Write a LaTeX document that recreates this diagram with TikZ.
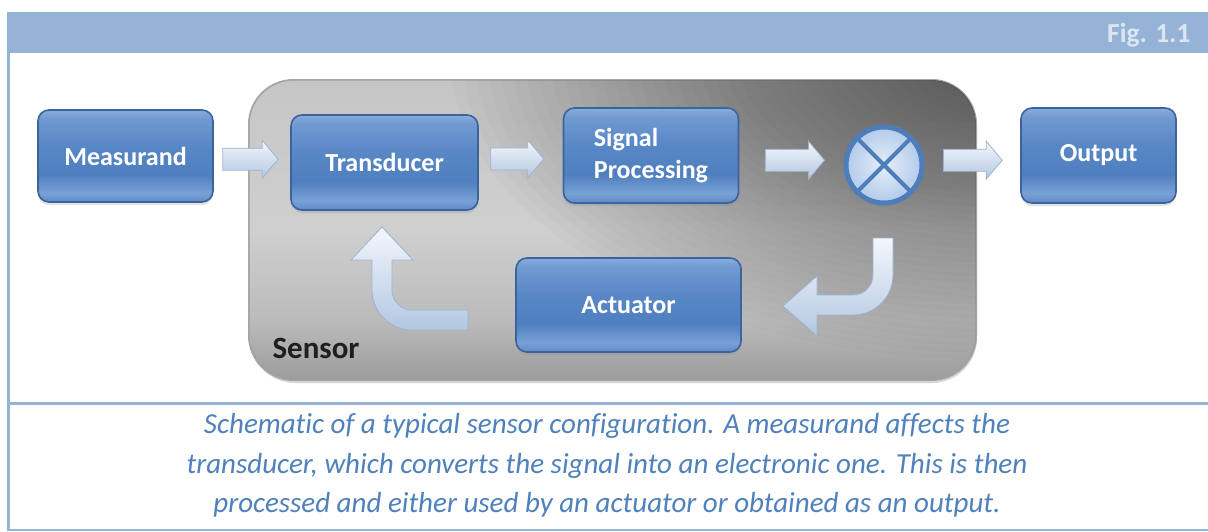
\documentclass[tikz,border=0pt]{standalone}
\usepackage{fontspec}
\setmainfont{Carlito}[Ligatures={NoCommon}]
\usetikzlibrary{calc,shadows}

% palette
\definecolor{frameblue}{HTML}{95B3D7}
\definecolor{captionblue}{HTML}{4F81BD}
\definecolor{figlabel}{HTML}{DCE6F2}
\definecolor{boxline}{HTML}{3B639C}
\definecolor{bxA}{HTML}{5E8AC6}
\definecolor{bxB}{HTML}{7AA1D6}
\definecolor{bxC}{HTML}{4F7FBF}
\definecolor{bxD}{HTML}{5887C5}
\definecolor{bxE}{HTML}{7099D1}
\definecolor{bxF}{HTML}{88ACDC}
\definecolor{snA}{HTML}{9C9C9C}
\definecolor{snB}{HTML}{BBBBBB}
\definecolor{snC}{HTML}{CFCFCF}
\definecolor{snD}{HTML}{C6C6C6}
\definecolor{arrowtop}{HTML}{F4F7FC}
\definecolor{arrowbot}{HTML}{B3C7E2}
\definecolor{arrowline}{HTML}{9DB3D2}
\definecolor{ringblue}{HTML}{4E7DBB}
\definecolor{mixin}{HTML}{E6EEF9}
\definecolor{mixout}{HTML}{B2CBEA}

% glossy blue fill of the blocks
\pgfdeclareverticalshading{glossblue}{100bp}{color(0bp)=(bxA); color(25bp)=(bxA);
  color(30bp)=(bxB); color(40bp)=(bxC); color(55bp)=(bxD); color(70bp)=(bxE);
  color(75bp)=(bxF); color(100bp)=(bxF)}
% base fill of the sensor panel
\pgfdeclareverticalshading{sensorbase}{100bp}{color(0bp)=(snA); color(25bp)=(snA);
  color(35bp)=(snB); color(50bp)=(snC); color(75bp)=(snD); color(100bp)=(snD)}

\tikzset{
  blockbox/.style={rectangle, rounded corners=11pt, inner sep=0pt,
    shading=glossblue, draw=boxline, line width=1.6pt,
    drop shadow={shadow xshift=0pt, shadow yshift=-3pt, opacity=0.22},
    text=white, font=\fontsize{26}{32}\selectfont\bfseries},
  sensorbox/.style={rectangle, rounded corners=45pt, inner sep=0pt,
    shading=sensorbase, draw=gray!75, line width=1pt,
    drop shadow={shadow xshift=1pt, shadow yshift=-3pt, opacity=0.3}},
  fatarrow/.style={draw=arrowline, line width=0.8pt,
    top color=arrowtop, bottom color=arrowbot,
    to path={let \p1=(\tikztostart), \p2=(\tikztotarget),
      \p3=($(\tikztostart)!0.5!(\tikztotarget)$) in
      (\x1,\y3+11pt) -- (\x2-16pt,\y3+11pt) -- (\x2-16pt,\y3+19pt) -- (\x2,\y3)
      -- (\x2-16pt,\y3-19pt) -- (\x2-16pt,\y3-11pt) -- (\x1,\y3-11pt) -- cycle}},
  bentarrow/.style={draw=arrowline, line width=0.8pt,
    top color=arrowtop, bottom color=arrowbot},
  xline/.style={draw=ringblue, line width=4pt},
  captiontext/.style={anchor=base, text=captionblue,
    font=\fontsize{29}{34}\selectfont\itshape}
}

\begin{document}
\begin{tikzpicture}[x=1pt, y=-1pt]
\useasboundingbox (0,0) rectangle (1208,531);
\fill[white] (0,0) rectangle (1208,531);

% frame of the figure
\fill[frameblue] (7,12) rectangle (1208,53);
\fill[frameblue] (7,53) rectangle (10,531);
\fill[frameblue] (7,402) rectangle (1208,405);
\fill[frameblue] (7,528.5) rectangle (1208,531);
\node[anchor=base east, text=figlabel, font=\fontsize{27.5}{30}\selectfont\bfseries]
  (figno) at (1194,42) {Fig. 1.1};

% sensor panel
\node[sensorbox, minimum width=727pt, minimum height=300pt] (sensor) at (612.5,230) {};
\begin{scope}
  \clip[rounded corners=45pt] (sensor.south west) rectangle (sensor.north east);
  % stacked translucent ellipses darken the upper right corner smoothly
  \foreach \k in {1,...,44}
    \fill[black, opacity=0.016]
      (1000,55) ellipse [x radius={12.5*\k}, y radius={6.93*\k}];
\end{scope}
\draw[gray!70, line width=1pt, rounded corners=45pt]
  (sensor.south west) rectangle (sensor.north east);
\node[anchor=base west, text=black!88, font=\fontsize{31}{34}\selectfont\bfseries]
  (sensorlabel) at (269,358) {Sensor};

% blocks
\node[blockbox, minimum width=175pt, minimum height=92pt] (meas) at (125.5,156) {Measurand};
\node[blockbox, minimum width=187pt, minimum height=95pt] (trans) at (384.5,162.5) {Transducer};
\node[blockbox, minimum width=175pt, minimum height=95pt, align=left] (sp) at (651,155.5)
  {Signal\\Processing};
\node[blockbox, minimum width=155pt, minimum height=95pt] (out) at (1098.5,155.5) {Output};
\node[blockbox, minimum width=225pt, minimum height=94pt] (act) at (628.5,305) {Actuator};

% mixing junction
\node[circle, minimum size=76pt, inner sep=0pt, draw=ringblue, line width=5pt,
  inner color=mixin, outer color=mixout,
  drop shadow={shadow xshift=0pt, shadow yshift=-3pt, opacity=0.2}] (mix) at (884,165) {};
\draw[xline] (mix.45) -- (mix.225);
\draw[xline] (mix.135) -- (mix.315);

% forward path
\path[fatarrow] ($(meas.east)+(9,0)$) to ($(trans.west)+(-12,0)$);
\path[fatarrow] ($(trans.east)+(12,0)$) to ($(sp.west)+(-19,0)$);
\path[fatarrow] ($(sp.east)+(26,0)$) to ($(mix.west)+(-19,0)$);
\path[fatarrow] ($(mix.east)+(19,0)$) to ($(out.west)+(-18,0)$);

% feedback path: junction down to the actuator
\path[bentarrow] (873,238) -- (893,238) -- (893,275)
  arc[start angle=0, end angle=90, radius=40] -- (817,315) -- (817,336)
  -- (783,306) -- (817,276) -- (817,295) -- (853,295)
  arc[start angle=90, end angle=0, radius=20] -- cycle;
% feedback path: actuator up to the transducer
\path[bentarrow] (372,260) -- (372,290)
  arc[start angle=180, end angle=90, radius=40] -- (468,330) -- (468,310)
  -- (412,310) arc[start angle=90, end angle=180, radius=20] -- (392,260)
  -- (413,260) -- (382,227) -- (351,260) -- cycle;

% caption
\node[captiontext] (cap1) at (607,433)
  {Schematic of a typical sensor configuration. A measurand affects the};
\node[captiontext] (cap2) at (607,473)
  {transducer, which converts the signal into an electronic one. This is then};
\node[captiontext] (cap3) at (607,512)
  {processed and either used by an actuator or obtained as an output.};
\end{tikzpicture}
\end{document}
